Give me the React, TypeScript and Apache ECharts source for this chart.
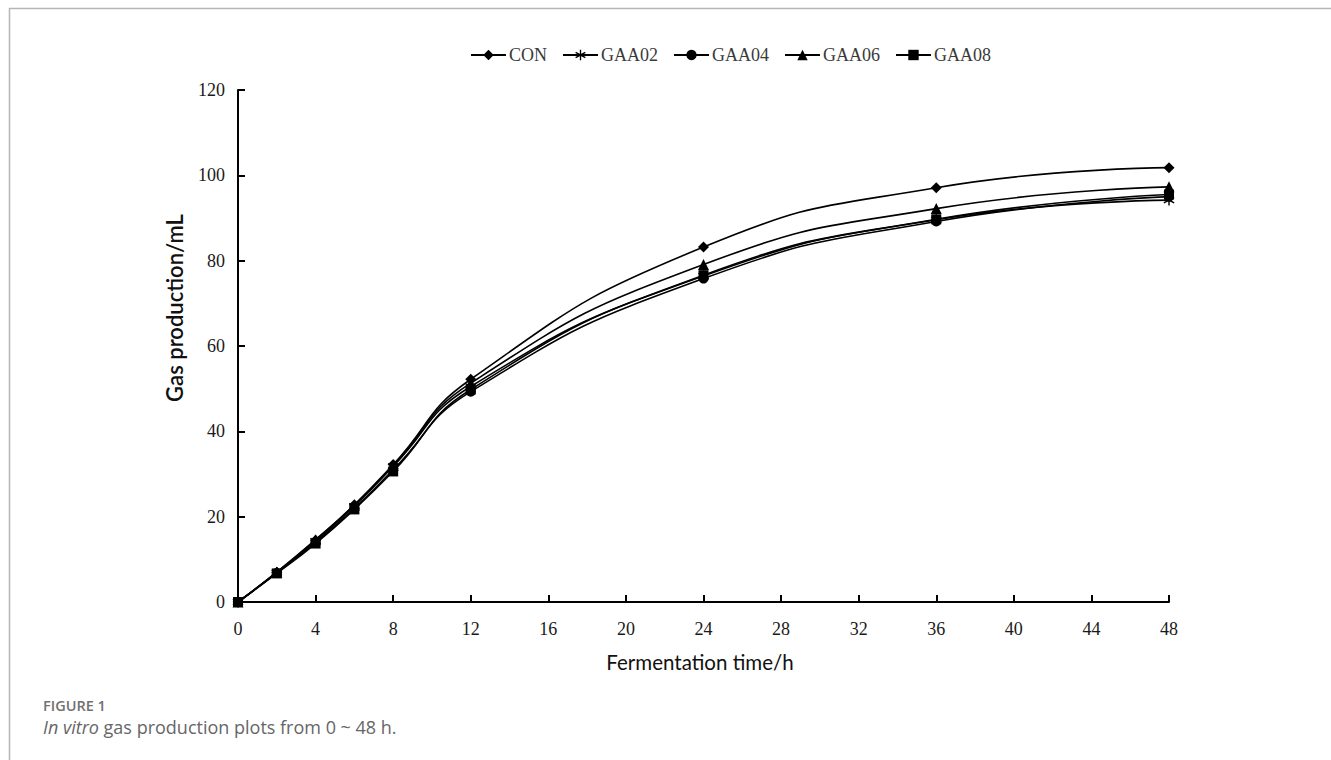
import React, { useEffect, useRef } from "react";
import * as echarts from "echarts";

const times = [0, 2, 4, 6, 8, 12, 24, 36, 48];
const seriesNames = ["CON", "GAA02", "GAA04", "GAA06", "GAA08"];
const conValues = [0, 7.0, 14.5, 22.8, 32.2, 52.2, 83.2, 97.1, 101.8];
const gaa02Values = [0, 6.9, 14.3, 22.5, 31.8, 50.5, 76.4, 89.6, 94.2];
const gaa04Values = [0, 6.8, 14.0, 22.0, 31.0, 49.3, 75.8, 89.2, 95.0];
const gaa06Values = [0, 7.0, 14.6, 22.7, 32.0, 51.3, 79.1, 92.2, 97.3];
const gaa08Values = [0, 6.7, 13.7, 21.7, 30.6, 49.8, 76.6, 89.7, 95.5];
const xTickLabels = [0, 4, 8, 12, 16, 20, 24, 28, 32, 36, 40, 44, 48];
const yTickLabels = [0, 20, 40, 60, 80, 100, 120];

const starPath =
  "path://M-1.2,-10L1.2,-10L1.2,10L-1.2,10Z" +
  "M9.26,3.96L8.06,6.04L-9.26,-3.96L-8.06,-6.04Z" +
  "M8.06,-6.04L9.26,-3.96L-8.06,6.04L-9.26,3.96Z";

const symbols = ["diamond", starPath, "circle", "triangle", "rect"];
const symbolSizes = [11, 11, 10, 11, 10];

export default function App() {
  const ref = useRef<HTMLDivElement>(null);
  useEffect(() => {
    if (!ref.current) return;
    const chart = echarts.init(ref.current, null, { renderer: "svg" });
    const all = [conValues, gaa02Values, gaa04Values, gaa06Values, gaa08Values];
    const serif = "'Liberation Serif', 'Times New Roman', serif";
    const sans = "Lato, 'Open Sans', sans-serif";
    chart.setOption({
      animation: false,
      backgroundColor: "#fff",
      legend: {
        top: 41,
        left: 465,
        itemWidth: 35,
        itemHeight: 13,
        itemGap: 15,
        data: seriesNames,
        textStyle: { fontFamily: serif, fontSize: 18, color: "#3a3a3a", padding: [0, 0, 0, -2] },
      },
      grid: { left: 238, right: 162, top: 90, bottom: 158, containLabel: false },
      xAxis: {
        type: "value",
        min: 0,
        max: 48,
        interval: 4,
        axisLine: { show: true, lineStyle: { color: "#000", width: 2 } },
        axisTick: { show: true, inside: true, length: 7, lineStyle: { color: "#000", width: 2 } },
        axisLabel: {
          margin: 18,
          fontFamily: serif,
          fontSize: 18,
          color: "#1a1a1a",
          formatter: (v: number) => (xTickLabels.includes(v) ? String(v) : ""),
        },
        splitLine: { show: false },
      },
      yAxis: {
        type: "value",
        min: 0,
        max: 120,
        interval: 20,
        axisLine: { show: true, lineStyle: { color: "#000", width: 2 } },
        axisTick: { show: true, inside: true, length: 7, lineStyle: { color: "#000", width: 2 } },
        axisLabel: {
          margin: 13,
          fontFamily: serif,
          fontSize: 18,
          color: "#1a1a1a",
          formatter: (v: number) => (yTickLabels.includes(v) ? String(v) : ""),
        },
        splitLine: { show: false },
      },
      series: seriesNames.map((name, i) => ({
        name,
        type: "line",
        smooth: 0.5,
        symbol: symbols[i],
        symbolSize: symbolSizes[i],
        color: "#000",
        lineStyle: { color: "#000", width: 1.6 },
        itemStyle: { color: "#000" },
        data: times.map((t, j) => [t, all[i][j]]),
      })),
      graphic: [
        { type: "line", shape: { x1: 9, y1: 8.5, x2: 1331, y2: 8.5 }, style: { stroke: "#b5b5b5", lineWidth: 1.5 } },
        { type: "line", shape: { x1: 9.5, y1: 8, x2: 9.5, y2: 760 }, style: { stroke: "#b5b5b5", lineWidth: 1.5 } },
        {
          type: "text",
          x: 174,
          y: 308,
          rotation: Math.PI / 2,
          style: {
            text: "Gas production/mL",
            fontFamily: sans,
            fontSize: 22,
            fontWeight: 600,
            fill: "#111",
            align: "center",
            verticalAlign: "middle",
          },
        },
        {
          type: "text",
          x: 700,
          y: 662,
          style: {
            text: "Fermentation time/h",
            fontFamily: sans,
            fontSize: 20.5,
            fill: "#111",
            align: "center",
            verticalAlign: "middle",
          },
        },
        {
          type: "text",
          x: 43,
          y: 705,
          style: {
            text: "FIGURE 1",
            fontFamily: "'Open Sans', sans-serif",
            fontSize: 14.5,
            fontWeight: 600,
            fill: "#707070",
            align: "left",
            verticalAlign: "middle",
          },
        },
        {
          type: "text",
          x: 43,
          y: 727,
          style: {
            text: "{i|In vitro} gas production plots from 0 ~ 48 h.",
            fontFamily: "'Open Sans', sans-serif",
            fontSize: 18,
            fill: "#666",
            align: "left",
            verticalAlign: "middle",
            rich: {
              i: { fontStyle: "italic", fontFamily: "'Open Sans', sans-serif", fontSize: 18, fill: "#666" },
            },
          },
        },
      ],
    });
    return () => chart.dispose();
  }, []);
  return (
    <div
      ref={ref}
      style={{ position: "fixed", left: 0, top: 0, width: 1331, height: 760, background: "#fff" }}
    />
  );
}
